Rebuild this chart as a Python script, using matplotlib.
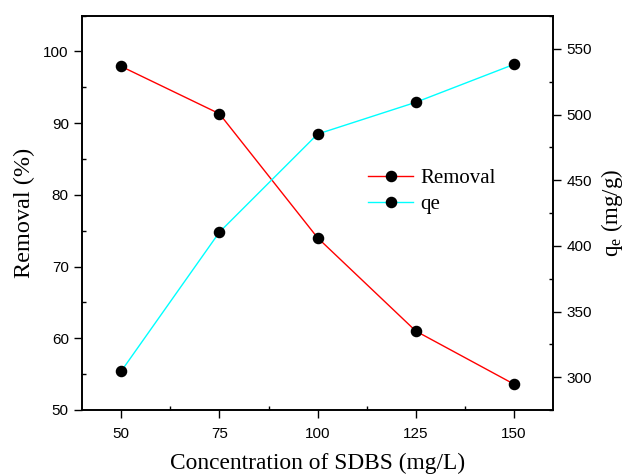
import matplotlib
matplotlib.use("Agg")
import matplotlib.pyplot as plt
from matplotlib.ticker import MultipleLocator

concentration = [50, 75, 100, 125, 150]
removal = [97.9, 91.3, 74.0, 61.0, 53.6]
qe = [304.6, 410.5, 485.2, 509.4, 538.3]

plt.rcParams['mathtext.fontset'] = 'custom'
plt.rcParams['mathtext.rm'] = 'Liberation Serif'
plt.rcParams['mathtext.it'] = 'Liberation Serif:italic'

fig = plt.figure(figsize=(6.24, 4.76), dpi=100)
ax = fig.add_axes([0.1314, 0.1387, 0.7553, 0.8287])
ax2 = ax.twinx()

l1, = ax.plot(concentration, removal, color='red', lw=1.0, marker='o', ms=7.3,
              mfc='black', mec='black', label='Removal')
l2, = ax2.plot(concentration, qe, color='cyan', lw=1.0, marker='o', ms=7.3,
               mfc='black', mec='black', label='qe')

ax.set_xlim(40, 160)
ax.set_ylim(50, 105)
ax2.set_ylim(275, 575.5)

ax.xaxis.set_major_locator(MultipleLocator(25))
ax.xaxis.set_minor_locator(MultipleLocator(12.5))
ax.yaxis.set_major_locator(MultipleLocator(10))
ax.yaxis.set_minor_locator(MultipleLocator(5))
ax2.yaxis.set_major_locator(MultipleLocator(50))
ax2.yaxis.set_minor_locator(MultipleLocator(25))

tickfont = 'Liberation Sans'
for a in (ax, ax2):
    a.tick_params(which='major', direction='out', length=5.5, width=1, labelsize=11, pad=4)
    a.tick_params(which='minor', direction='in', length=3, width=1)
    for lab in a.get_xticklabels() + a.get_yticklabels():
        lab.set_fontfamily(tickfont)
    for s in a.spines.values():
        s.set_linewidth(1.2)
ax.tick_params(axis='x', which='major', pad=6.5)
ax.tick_params(axis='x', which='both', top=False)
ax2.tick_params(axis='x', which='both', top=False)
ax.set_xlim(40, 160)

ax.set_xlabel('Concentration of SDBS (mg/L)', fontfamily='Liberation Serif', fontsize=16.8, labelpad=9)
ax.set_ylabel('Removal (%)', fontfamily='Liberation Serif', fontsize=17.5, labelpad=6)
ax2.set_ylabel(r'q$_{\mathrm{e}}$ (mg/g)', fontfamily='Liberation Serif', fontsize=16.5, labelpad=5)

leg = ax.legend(handles=[l1, l2], loc='upper left', bbox_to_anchor=(0.568, 0.66),
                frameon=False, prop={'family': 'Liberation Serif', 'size': 15},
                handlelength=2.16, handletextpad=0.32, labelspacing=0.33,
                borderaxespad=0.5)

fig.savefig('out.png', dpi=100)
